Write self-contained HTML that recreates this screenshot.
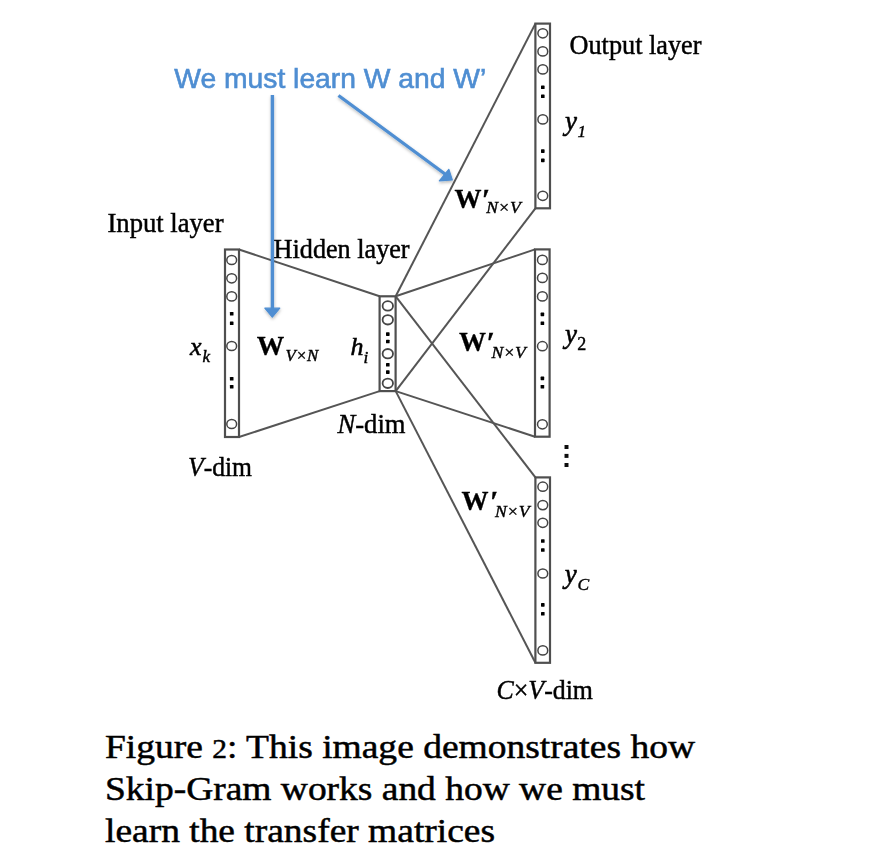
<!DOCTYPE html>
<html><head><meta charset="utf-8"><style>
html,body{margin:0;padding:0;background:#fff;width:882px;height:864px;overflow:hidden}
svg{display:block}
</style></head><body>
<svg width="882" height="864" viewBox="0 0 882 864">
<defs><filter id="b" x="-5%" y="-5%" width="110%" height="110%"><feGaussianBlur stdDeviation="0.75"/></filter></defs>
<g filter="url(#b)">
<line x1="239" y1="249.5" x2="379.6" y2="296.3" stroke="#555" stroke-width="2.0"/>
<line x1="239" y1="437" x2="379.6" y2="391.1" stroke="#555" stroke-width="2.0"/>
<line x1="395.7" y1="296.3" x2="535.4" y2="23.6" stroke="#555" stroke-width="2.0"/>
<line x1="395.7" y1="296.3" x2="535" y2="249.4" stroke="#555" stroke-width="2.0"/>
<line x1="395.7" y1="296.3" x2="535.4" y2="477.4" stroke="#555" stroke-width="2.0"/>
<line x1="395.7" y1="391.1" x2="535.4" y2="208.3" stroke="#555" stroke-width="2.0"/>
<line x1="395.7" y1="391.1" x2="535" y2="436.7" stroke="#555" stroke-width="2.0"/>
<line x1="395.7" y1="391.1" x2="535.4" y2="662.8" stroke="#555" stroke-width="2.0"/>
<rect x="225" y="249.5" width="14" height="187.5" fill="none" stroke="#505050" stroke-width="2.2"/>
<ellipse cx="231.7" cy="260" rx="4.9" ry="4.6" fill="none" stroke="#444" stroke-width="1.5"/>
<ellipse cx="231.7" cy="278.3" rx="4.9" ry="4.6" fill="none" stroke="#444" stroke-width="1.5"/>
<ellipse cx="231.7" cy="296.4" rx="4.9" ry="4.6" fill="none" stroke="#444" stroke-width="1.5"/>
<ellipse cx="231.7" cy="346" rx="4.9" ry="4.6" fill="none" stroke="#444" stroke-width="1.5"/>
<ellipse cx="231.7" cy="424" rx="4.9" ry="4.6" fill="none" stroke="#444" stroke-width="1.5"/>
<rect x="229.89999999999998" y="311.90000000000003" width="3.6" height="3.6" rx="0.6" fill="#000"/>
<rect x="229.89999999999998" y="321.40000000000003" width="3.6" height="3.6" rx="0.6" fill="#000"/>
<rect x="229.89999999999998" y="376.90000000000003" width="3.6" height="3.6" rx="0.6" fill="#000"/>
<rect x="229.89999999999998" y="384.90000000000003" width="3.6" height="3.6" rx="0.6" fill="#000"/>
<rect x="379.6" y="296.3" width="16" height="94.80000000000001" fill="none" stroke="#505050" stroke-width="2.2"/>
<ellipse cx="387.8" cy="305.9" rx="5.2" ry="4.7" fill="none" stroke="#444" stroke-width="1.8"/>
<ellipse cx="387.8" cy="319.8" rx="5.2" ry="4.7" fill="none" stroke="#444" stroke-width="1.8"/>
<ellipse cx="387.8" cy="353.7" rx="5.2" ry="4.7" fill="none" stroke="#444" stroke-width="1.8"/>
<ellipse cx="387.8" cy="383.3" rx="5.2" ry="4.7" fill="none" stroke="#444" stroke-width="1.8"/>
<rect x="386.0" y="332.3" width="3.6" height="3.6" rx="0.6" fill="#000"/>
<rect x="386.0" y="339.70000000000005" width="3.6" height="3.6" rx="0.6" fill="#000"/>
<rect x="386.0" y="362.90000000000003" width="3.6" height="3.6" rx="0.6" fill="#000"/>
<rect x="386.0" y="370.3" width="3.6" height="3.6" rx="0.6" fill="#000"/>
<rect x="535.4" y="23.6" width="14.6" height="184.70000000000002" fill="none" stroke="#505050" stroke-width="2.2"/>
<ellipse cx="542.8" cy="33.3" rx="4.9" ry="4.6" fill="none" stroke="#444" stroke-width="1.5"/>
<ellipse cx="542.8" cy="51.4" rx="4.9" ry="4.6" fill="none" stroke="#444" stroke-width="1.5"/>
<ellipse cx="542.8" cy="69.4" rx="4.9" ry="4.6" fill="none" stroke="#444" stroke-width="1.5"/>
<ellipse cx="542.8" cy="119.4" rx="4.9" ry="4.6" fill="none" stroke="#444" stroke-width="1.5"/>
<ellipse cx="542.8" cy="195.8" rx="4.9" ry="4.6" fill="none" stroke="#444" stroke-width="1.5"/>
<rect x="541.0" y="85.39999999999999" width="3.6" height="3.6" rx="0.6" fill="#000"/>
<rect x="541.0" y="94.39999999999999" width="3.6" height="3.6" rx="0.6" fill="#000"/>
<rect x="541.0" y="149.29999999999998" width="3.6" height="3.6" rx="0.6" fill="#000"/>
<rect x="541.0" y="158.6" width="3.6" height="3.6" rx="0.6" fill="#000"/>
<rect x="535" y="249.4" width="14.6" height="187.29999999999998" fill="none" stroke="#505050" stroke-width="2.2"/>
<ellipse cx="542.4" cy="259.9" rx="4.9" ry="4.6" fill="none" stroke="#444" stroke-width="1.5"/>
<ellipse cx="542.4" cy="277.9" rx="4.9" ry="4.6" fill="none" stroke="#444" stroke-width="1.5"/>
<ellipse cx="542.4" cy="296.4" rx="4.9" ry="4.6" fill="none" stroke="#444" stroke-width="1.5"/>
<ellipse cx="542.4" cy="346.2" rx="4.9" ry="4.6" fill="none" stroke="#444" stroke-width="1.5"/>
<ellipse cx="542.4" cy="424.3" rx="4.9" ry="4.6" fill="none" stroke="#444" stroke-width="1.5"/>
<rect x="540.6" y="312.6" width="3.6" height="3.6" rx="0.6" fill="#000"/>
<rect x="540.6" y="321.40000000000003" width="3.6" height="3.6" rx="0.6" fill="#000"/>
<rect x="540.6" y="376.6" width="3.6" height="3.6" rx="0.6" fill="#000"/>
<rect x="540.6" y="384.90000000000003" width="3.6" height="3.6" rx="0.6" fill="#000"/>
<rect x="535.4" y="477.4" width="14.6" height="185.39999999999998" fill="none" stroke="#505050" stroke-width="2.2"/>
<ellipse cx="542.8" cy="486.7" rx="4.9" ry="4.6" fill="none" stroke="#444" stroke-width="1.5"/>
<ellipse cx="542.8" cy="505.1" rx="4.9" ry="4.6" fill="none" stroke="#444" stroke-width="1.5"/>
<ellipse cx="542.8" cy="522.8" rx="4.9" ry="4.6" fill="none" stroke="#444" stroke-width="1.5"/>
<ellipse cx="542.8" cy="573.5" rx="4.9" ry="4.6" fill="none" stroke="#444" stroke-width="1.5"/>
<ellipse cx="542.8" cy="650.4" rx="4.9" ry="4.6" fill="none" stroke="#444" stroke-width="1.5"/>
<rect x="541.0" y="539.2" width="3.6" height="3.6" rx="0.6" fill="#000"/>
<rect x="541.0" y="548.2" width="3.6" height="3.6" rx="0.6" fill="#000"/>
<rect x="541.0" y="603.1" width="3.6" height="3.6" rx="0.6" fill="#000"/>
<rect x="541.0" y="612.0" width="3.6" height="3.6" rx="0.6" fill="#000"/>
<rect x="564.5" y="445" width="4" height="4" fill="#111"/>
<rect x="564.5" y="453.9" width="4" height="4" fill="#111"/>
<rect x="564.5" y="463" width="4" height="4" fill="#111"/>
<filter id="sh" x="-50%" y="-50%" width="200%" height="200%"><feGaussianBlur stdDeviation="0.45"/><feDropShadow dx="0.3" dy="1.6" stdDeviation="1.4" flood-color="#000" flood-opacity="0.28"/></filter>
<g filter="url(#sh)">
<line x1="272.4" y1="95" x2="272.4" y2="309" stroke="#4f8ed2" stroke-width="3.4"/>
<polygon points="264.8,308.2 279.8,308.2 272.3,317.2" fill="#4f8ed2" stroke="#4f8ed2" stroke-width="1.2" stroke-linejoin="round"/>
<line x1="338.5" y1="95.5" x2="445" y2="174" stroke="#4f8ed2" stroke-width="3.4"/>
<polygon points="452.3,180 448.8,169.3 439.3,180.9" fill="#4f8ed2" stroke="#4f8ed2" stroke-width="1.2" stroke-linejoin="round"/>
</g>
<text x="174.3" y="87.6" font-family='"Liberation Sans", sans-serif' font-size="28" fill="#4f8ed2" stroke="#4f8ed2" stroke-width="0.6" textLength="312" lengthAdjust="spacingAndGlyphs" >We must learn W and W&#8217;</text>
<text x="569.5" y="54" font-family='"Liberation Serif", serif' font-size="27" fill="#000" stroke="#000" stroke-width="0.45" textLength="132" lengthAdjust="spacingAndGlyphs" >Output layer</text>
<text x="107.5" y="231.7" font-family='"Liberation Serif", serif' font-size="27" fill="#000" stroke="#000" stroke-width="0.45" textLength="116" lengthAdjust="spacingAndGlyphs" >Input layer</text>
<text x="273.6" y="257.7" font-family='"Liberation Serif", serif' font-size="27" fill="#000" stroke="#000" stroke-width="0.45" textLength="136" lengthAdjust="spacingAndGlyphs" >Hidden layer</text>
<text x="190" y="354.5" font-family='"Liberation Serif", serif' font-size="26" fill="#000" stroke="#000" stroke-width="0.55" font-style="italic">x</text>
<text x="202.5" y="361.5" font-family='"Liberation Serif", serif' font-size="17" fill="#000" stroke="#000" stroke-width="0.45" font-style="italic">k</text>
<text x="256.8" y="354.6" font-family='"Liberation Serif", serif' font-size="27.5" fill="#000" stroke="#000" stroke-width="0.3" font-weight="bold">W</text>
<text x="285.5" y="361" font-family='"Liberation Serif", serif' font-size="16" fill="#000" stroke="#000" stroke-width="0.4" textLength="32.8" lengthAdjust="spacingAndGlyphs" font-style="italic">V×N</text>
<text x="350.5" y="355.4" font-family='"Liberation Serif", serif' font-size="26" fill="#000" stroke="#000" stroke-width="0.55" font-style="italic">h</text>
<text x="363.5" y="363.3" font-family='"Liberation Serif", serif' font-size="17" fill="#000" stroke="#000" stroke-width="0.45" font-style="italic">i</text>
<text x="454.5" y="208" font-family='"Liberation Serif", serif' font-size="27" fill="#000" stroke="#000" stroke-width="0.3" font-weight="bold">W</text>
<text x="482.1" y="208.5" font-family='"Liberation Serif", serif' font-size="29" fill="#000" stroke="#000" stroke-width="0.4" font-weight="bold">&#8242;</text>
<text x="486.3" y="212.7" font-family='"Liberation Serif", serif' font-size="16.5" fill="#000" stroke="#000" stroke-width="0.4" textLength="34.5" lengthAdjust="spacingAndGlyphs" font-style="italic">N×V</text>
<text x="459.1" y="351.1" font-family='"Liberation Serif", serif' font-size="27" fill="#000" stroke="#000" stroke-width="0.3" font-weight="bold">W</text>
<text x="486.7" y="351.6" font-family='"Liberation Serif", serif' font-size="29" fill="#000" stroke="#000" stroke-width="0.4" font-weight="bold">&#8242;</text>
<text x="491.4" y="358.3" font-family='"Liberation Serif", serif' font-size="16.5" fill="#000" stroke="#000" stroke-width="0.4" textLength="34.5" lengthAdjust="spacingAndGlyphs" font-style="italic">N×V</text>
<text x="461.6" y="510.2" font-family='"Liberation Serif", serif' font-size="27" fill="#000" stroke="#000" stroke-width="0.3" font-weight="bold">W</text>
<text x="490.2" y="510.7" font-family='"Liberation Serif", serif' font-size="29" fill="#000" stroke="#000" stroke-width="0.4" font-weight="bold">&#8242;</text>
<text x="495" y="516.8" font-family='"Liberation Serif", serif' font-size="16.5" fill="#000" stroke="#000" stroke-width="0.4" textLength="34.5" lengthAdjust="spacingAndGlyphs" font-style="italic">N×V</text>
<text x="565" y="130" font-family='"Liberation Serif", serif' font-size="27" fill="#000" stroke="#000" stroke-width="0.55" font-style="italic">y</text>
<text x="577.6" y="136.5" font-family='"Liberation Serif", serif' font-size="17" fill="#000" stroke="#000" stroke-width="0.4" font-style="italic">1</text>
<text x="565" y="342.7" font-family='"Liberation Serif", serif' font-size="27" fill="#000" stroke="#000" stroke-width="0.55" font-style="italic">y</text>
<text x="577.2" y="350" font-family='"Liberation Serif", serif' font-size="18" fill="#000" stroke="#000" stroke-width="0.4" >2</text>
<text x="564.8" y="583.2" font-family='"Liberation Serif", serif' font-size="27" fill="#000" stroke="#000" stroke-width="0.55" font-style="italic">y</text>
<text x="577.6" y="590" font-family='"Liberation Serif", serif' font-size="17.5" fill="#000" stroke="#000" stroke-width="0.4" font-style="italic">C</text>
<text x="337.5" y="432.9" font-family='"Liberation Serif", serif' font-size="27" fill="#000" stroke="#000" stroke-width="0.45" textLength="68" lengthAdjust="spacingAndGlyphs" ><tspan font-style="italic">N</tspan>-dim</text>
<text x="188" y="475.8" font-family='"Liberation Serif", serif' font-size="27" fill="#000" stroke="#000" stroke-width="0.45" textLength="64" lengthAdjust="spacingAndGlyphs" ><tspan font-style="italic">V</tspan>-dim</text>
<text x="496.5" y="699.3" font-family='"Liberation Serif", serif' font-size="27" fill="#000" stroke="#000" stroke-width="0.45" textLength="96.5" lengthAdjust="spacingAndGlyphs" ><tspan font-style="italic">C</tspan>×<tspan font-style="italic">V</tspan>-dim</text>
</g>
<text x="105" y="757.9" font-family='"Liberation Serif", serif' font-size="34.5" fill="#000" stroke="#000" stroke-width="0.5" textLength="590" lengthAdjust="spacingAndGlyphs" >Figure <tspan font-size="27">2</tspan>: This image demonstrates how</text>
<text x="105" y="800.1" font-family='"Liberation Serif", serif' font-size="34.5" fill="#000" stroke="#000" stroke-width="0.5" textLength="540" lengthAdjust="spacingAndGlyphs" >Skip-Gram works and how we must</text>
<text x="105" y="841.6" font-family='"Liberation Serif", serif' font-size="34.5" fill="#000" stroke="#000" stroke-width="0.5" textLength="390" lengthAdjust="spacingAndGlyphs" >learn the transfer matrices</text>
</svg>
</body></html>
